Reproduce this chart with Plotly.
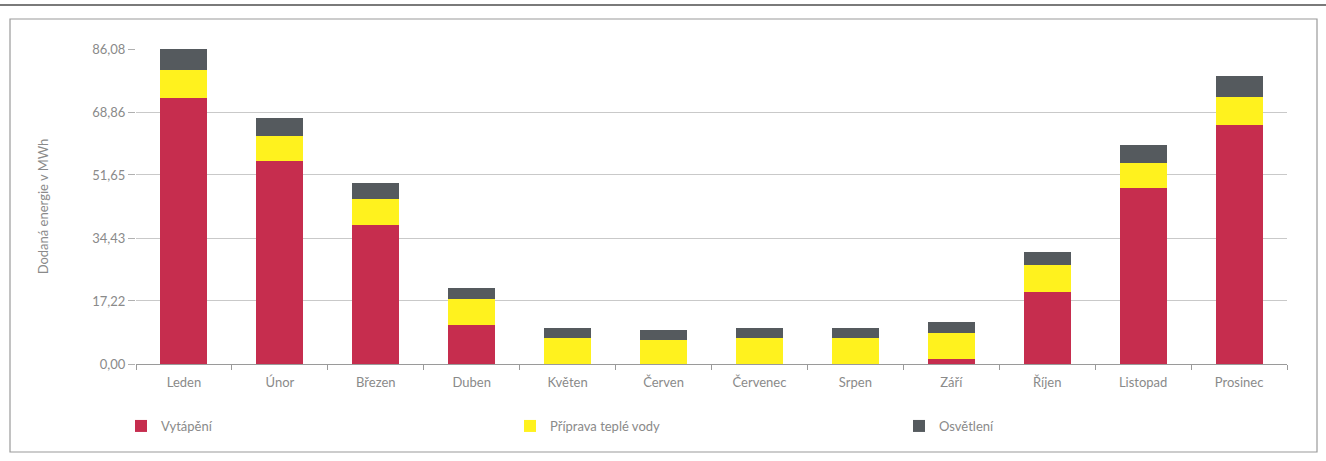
import plotly.graph_objects as go

months = ["Leden", "Únor", "Březen", "Duben", "Květen", "Červen", "Červenec",
          "Srpen", "Září", "Říjen", "Listopad", "Prosinec"]
vytapeni = [72.8, 55.6, 38.0, 10.7, 0.0, 0.0, 0.0, 0.0, 1.4, 19.6, 48.2, 65.4]
voda = [7.5, 6.8, 7.1, 7.0, 7.2, 6.65, 7.2, 7.1, 7.0, 7.4, 6.8, 7.5]
osvetleni = [5.78, 4.75, 4.3, 3.2, 2.65, 2.75, 2.65, 2.7, 3.0, 3.7, 4.8, 5.7]

ytick_vals = [0, 17.22, 34.43, 51.65, 68.86, 86.08]
ytick_text = ["0,00", "17,22", "34,43", "51,65", "68,86", "86,08"]

series_names = ["Vytápění", "Příprava teplé vody", "Osvětlení"]
colors = ["#C62D4E", "#FFF21E", "#555A5E"]

FONT = "Lato, 'Open Sans', sans-serif"
GRAY = "#8a8a8a"

fig = go.Figure()
for name, vals, col in zip(series_names, [vytapeni, voda, osvetleni], colors):
    fig.add_trace(go.Bar(x=months, y=vals, name=name, marker_color=col,
                         marker_line_width=0))

W, H = 1326, 461
L, R, T, B = 136, 39, 49, 97
pw, ph = W - L - R, H - T - B

def px_x(p):
    return (p - L) / pw

def px_y(p):
    return (H - B - p) / ph

fig.update_layout(
    width=W, height=H,
    margin=dict(l=L, r=R, t=T, b=B),
    barmode="stack",
    bargap=0.51,
    plot_bgcolor="white",
    paper_bgcolor="white",
    font=dict(family=FONT, size=13, color=GRAY),
    showlegend=True,
    legend=dict(orientation="h", x=px_x(121), y=px_y(426), xanchor="left",
                yanchor="middle", entrywidth=344, entrywidthmode="pixels",
                font=dict(size=13, color=GRAY), traceorder="normal",
                itemwidth=30),
    xaxis=dict(showgrid=False, showline=True, linecolor="#9a9a9a",
               linewidth=1, ticks="outside", tickson="boundaries",
               ticklen=5, tickcolor="#9a9a9a", ticklabelstandoff=6,
               tickfont=dict(size=13, color=GRAY)),
    yaxis=dict(range=[0, 86.08], tickvals=ytick_vals, ticktext=ytick_text,
               showgrid=True, gridcolor="#c9c9c9", gridwidth=1,
               zeroline=False, showline=False,
               ticks="outside", ticklen=7, tickcolor="#b0b0b0",
               tickfont=dict(size=13, color=GRAY),
               title=dict(text="Dodaná energie v MWh", standoff=40,
                          font=dict(size=13, color=GRAY))),
    shapes=[
        dict(type="rect", xref="paper", yref="paper",
             x0=px_x(10), x1=px_x(1317), y0=px_y(452), y1=px_y(19),
             line=dict(color="#9a9a9a", width=1.2), fillcolor="rgba(0,0,0,0)",
             layer="below"),
        dict(type="line", xref="paper", yref="paper",
             x0=px_x(0), x1=px_x(1326), y0=px_y(5), y1=px_y(5),
             line=dict(color="#7a7a7a", width=2)),
    ],
)

fig.write_html("out.html")
